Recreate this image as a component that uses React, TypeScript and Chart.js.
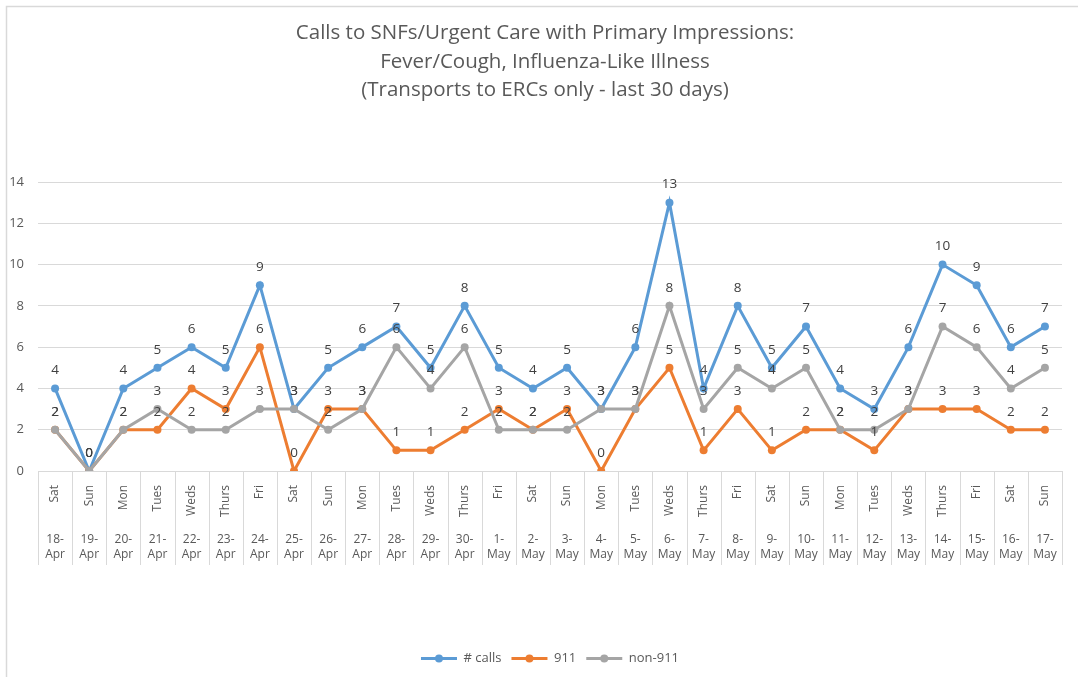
import React, { useEffect, useRef } from "react";
import { Chart, registerables } from "chart.js";

Chart.register(...registerables);

const days = [
  "Sat", "Sun", "Mon", "Tues", "Weds", "Thurs", "Fri",
  "Sat", "Sun", "Mon", "Tues", "Weds", "Thurs", "Fri",
  "Sat", "Sun", "Mon", "Tues", "Weds", "Thurs", "Fri",
  "Sat", "Sun", "Mon", "Tues", "Weds", "Thurs", "Fri",
  "Sat", "Sun",
];
const dates = [
  "18-Apr", "19-Apr", "20-Apr", "21-Apr", "22-Apr", "23-Apr", "24-Apr",
  "25-Apr", "26-Apr", "27-Apr", "28-Apr", "29-Apr", "30-Apr", "1-May",
  "2-May", "3-May", "4-May", "5-May", "6-May", "7-May", "8-May",
  "9-May", "10-May", "11-May", "12-May", "13-May", "14-May", "15-May",
  "16-May", "17-May",
];
const calls = [4, 0, 4, 5, 6, 5, 9, 3, 5, 6, 7, 5, 8, 5, 4, 5, 3, 6, 13, 4, 8, 5, 7, 4, 3, 6, 10, 9, 6, 7];
const calls911 = [2, 0, 2, 2, 4, 3, 6, 0, 3, 3, 1, 1, 2, 3, 2, 3, 0, 3, 5, 1, 3, 1, 2, 2, 1, 3, 3, 3, 2, 2];
const non911 = [2, 0, 2, 3, 2, 2, 3, 3, 2, 3, 6, 4, 6, 2, 2, 2, 3, 3, 8, 3, 5, 4, 5, 2, 2, 3, 7, 6, 4, 5];
const seriesNames = ["# calls", "911", "non-911"];
const seriesColors = ["#5B9BD5", "#ED7D31", "#A5A5A5"];
const yTicks = [0, 2, 4, 6, 8, 10, 12, 14];
const titleLines = [
  "Calls to SNFs/Urgent Care with Primary Impressions:",
  "Fever/Cough, Influenza-Like Illness",
  "(Transports to ERCs only - last 30 days)",
];

const FONT = "'Open Sans', 'Noto Sans', sans-serif";
const GRID = "#d9d9d9";
const TEXT = "#595959";
const LEGEND_LINE = 36;

const dateLabels = dates.map((d) => {
  const [n, m] = d.split("-");
  return [n + "-", m];
});

const extrasPlugin = {
  id: "extras",
  beforeDraw(chart: any) {
    const { ctx, chartArea, scales } = chart;
    ctx.save();
    ctx.strokeStyle = GRID;
    ctx.lineWidth = 1.5;
    ctx.strokeRect(6.5, 6.5, 1200, 800);
    const xs = scales.x;
    const n = days.length;
    const w = xs.getPixelForValue(1) - xs.getPixelForValue(0);
    ctx.lineWidth = 1;
    ctx.beginPath();
    for (let i = 0; i <= n; i++) {
      const px = Math.round(xs.getPixelForValue(0) - w / 2 + i * w) + 0.5;
      ctx.moveTo(px, chartArea.bottom);
      ctx.lineTo(px, chartArea.bottom + 94);
    }
    ctx.stroke();
    // title
    ctx.font = `20.5px ${FONT}`;
    ctx.fillStyle = TEXT;
    ctx.textAlign = "center";
    ctx.textBaseline = "middle";
    titleLines.forEach((t, i) => ctx.fillText(t, 545, 33 + i * 28.7));
    ctx.restore();
  },
  afterDatasetsDraw(chart: any) {
    const { ctx } = chart;
    ctx.save();
    ctx.font = `13.5px ${FONT}`;
    ctx.fillStyle = "#404040";
    ctx.textAlign = "center";
    ctx.textBaseline = "middle";
    chart.data.datasets.forEach((ds: any, di: number) => {
      const meta = chart.getDatasetMeta(di);
      meta.data.forEach((pt: any, i: number) => {
        ctx.fillText(String(ds.data[i]), pt.x, pt.y - 18);
      });
    });
    ctx.restore();
  },
  afterDraw(chart: any) {
    const lg = chart.legend;
    if (!lg || !lg.legendHitBoxes) return;
    const { ctx } = chart;
    ctx.save();
    lg.legendHitBoxes.forEach((hb: any, i: number) => {
      const cx = hb.left + LEGEND_LINE / 2;
      const cy = hb.top + hb.height / 2;
      ctx.fillStyle = seriesColors[i];
      ctx.beginPath();
      ctx.arc(cx, cy, 4, 0, Math.PI * 2);
      ctx.fill();
    });
    ctx.restore();
  },
};

export default function App() {
  const ref = useRef<HTMLCanvasElement | null>(null);
  useEffect(() => {
    if (!ref.current) return;
    const mk = (label: string, data: number[], color: string, order: number) => ({
      label,
      data,
      order,
      borderColor: color,
      backgroundColor: color,
      borderWidth: 3,
      pointRadius: 4,
      pointHoverRadius: 4,
      pointBackgroundColor: color,
      pointBorderWidth: 0,
      tension: 0,
      xAxisID: "x",
    });
    const chart = new Chart(ref.current, {
      type: "line",
      data: {
        labels: days,
        datasets: [
          mk(seriesNames[0], calls, seriesColors[0], 2),
          mk(seriesNames[1], calls911, seriesColors[1], 1),
          mk(seriesNames[2], non911, seriesColors[2], 0),
        ],
      },
      options: {
        animation: false,
        responsive: false,
        maintainAspectRatio: false,
        layout: { padding: { left: 8, right: 16, top: 182, bottom: 2 } },
        plugins: {
          tooltip: { enabled: false },
          title: { display: false },
          legend: {
            position: "bottom",
            fullSize: false,
            labels: {
              usePointStyle: true,
              pointStyleWidth: LEGEND_LINE,
              color: TEXT,
              font: { family: FONT, size: 13 },
              padding: 10,
              generateLabels: () =>
                seriesNames.map((name, i) => ({
                  text: name,
                  fillStyle: seriesColors[i],
                  strokeStyle: seriesColors[i],
                  lineWidth: 3,
                  pointStyle: "line",
                  hidden: false,
                  datasetIndex: i,
                  fontColor: TEXT,
                })),
            },
          },
        },
        scales: {
          x: {
            type: "category",
            labels: days,
            offset: true,
            position: "bottom",
            grid: { display: false },
            border: { display: false },
            ticks: {
              autoSkip: false,
              minRotation: 90,
              maxRotation: 90,
              color: TEXT,
              font: { family: FONT, size: 12 },
              padding: 6,
            },
            afterFit: (s: any) => { s.height = 52; },
          },
          x2: {
            type: "category",
            labels: dateLabels as any,
            offset: true,
            position: "bottom",
            grid: { display: false },
            border: { display: false },
            ticks: {
              autoSkip: false,
              minRotation: 0,
              maxRotation: 0,
              color: TEXT,
              font: { family: FONT, size: 12, lineHeight: 1.25 },
              padding: 1,
            },
            afterFit: (s: any) => { s.height = 119; },
          },
          y: {
            min: 0,
            max: 14,
            afterBuildTicks: (s: any) => { s.ticks = yTicks.map((v) => ({ value: v })); },
            grid: { color: GRID, drawTicks: false },
            border: { display: false },
            ticks: {
              color: TEXT,
              font: { family: FONT, size: 13 },
              padding: 14,
            },
            afterFit: (s: any) => { s.width = 30; },
          },
        },
      },
      plugins: [extrasPlugin],
    });
    return () => chart.destroy();
  }, []);
  return (
    <div style={{ position: "fixed", left: 0, top: 0, width: 1078, height: 677, background: "#fff" }}>
      <canvas ref={ref} width={1078} height={677} style={{ width: 1078, height: 677 }} />
    </div>
  );
}
